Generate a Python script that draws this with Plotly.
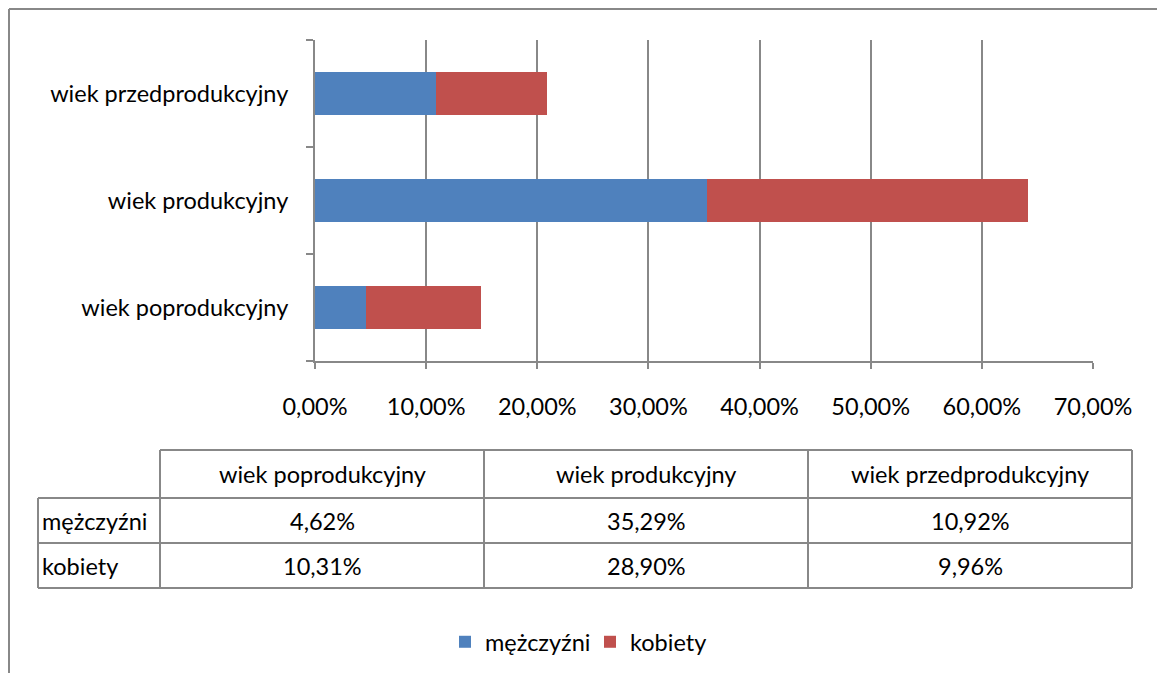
import plotly.graph_objects as go

categories = ["wiek poprodukcyjny", "wiek produkcyjny", "wiek przedprodukcyjny"]
men = [4.62, 35.29, 10.92]
women = [10.31, 28.90, 9.96]
series_names = ["mężczyźni", "kobiety"]
x_ticks = [0, 10, 20, 30, 40, 50, 60, 70]
x_tick_labels = ["0,00%", "10,00%", "20,00%", "30,00%", "40,00%", "50,00%", "60,00%", "70,00%"]

W, H = 1157, 673
FONT = "Lato"
FS = 23.5
GRAY = "#888888"
BLUE = "#4F81BD"
RED = "#C0504D"

def px(x):
    return x / W

def py(y):
    return 1 - y / H

fig = go.Figure()
fig.add_trace(go.Bar(y=categories, x=men, name=series_names[0], orientation="h",
                     marker=dict(color=BLUE, line=dict(width=0)), width=0.41))
fig.add_trace(go.Bar(y=categories, x=women, name=series_names[1], orientation="h",
                     marker=dict(color=RED, line=dict(width=0)), width=0.41))

shapes = []
annotations = []

# outer frame (left and top edges visible)
shapes.append(dict(type="line", xref="paper", yref="paper", x0=px(9), x1=px(9), y0=py(9), y1=py(673),
                   line=dict(color=GRAY, width=2)))
shapes.append(dict(type="line", xref="paper", yref="paper", x0=px(9), x1=px(1157), y0=py(9), y1=py(9),
                   line=dict(color=GRAY, width=2)))

# data table
col_x = [38, 160, 484, 808, 1132]
row_y = [450, 498, 543, 588]
tline = dict(color=GRAY, width=2)
shapes.append(dict(type="line", xref="paper", yref="paper", x0=px(col_x[1]), x1=px(col_x[-1]),
                   y0=py(row_y[0]), y1=py(row_y[0]), line=tline))
for ry in row_y[1:]:
    shapes.append(dict(type="line", xref="paper", yref="paper", x0=px(col_x[0]), x1=px(col_x[-1]),
                       y0=py(ry), y1=py(ry), line=tline))
shapes.append(dict(type="line", xref="paper", yref="paper", x0=px(col_x[0]), x1=px(col_x[0]),
                   y0=py(row_y[1]), y1=py(row_y[-1]), line=tline))
for cx in col_x[1:]:
    shapes.append(dict(type="line", xref="paper", yref="paper", x0=px(cx), x1=px(cx),
                       y0=py(row_y[0]), y1=py(row_y[-1]), line=tline))

tfont = dict(family=FONT, size=FS, color="#000000")
for i, cat in enumerate(categories):
    cx = (col_x[i + 1] + col_x[i + 2]) / 2
    annotations.append(dict(xref="paper", yref="paper", x=px(cx), y=py((row_y[0] + row_y[1]) / 2),
                            text=cat, showarrow=False, font=tfont, xanchor="center", yanchor="middle"))
rows = [men, women]
for r, (name, vals) in enumerate(zip(series_names, rows)):
    cy = (row_y[r + 1] + row_y[r + 2]) / 2
    annotations.append(dict(xref="paper", yref="paper", x=px(col_x[0] + 2), y=py(cy),
                            text=name, showarrow=False, font=tfont, xanchor="left", yanchor="middle"))
    for i, v in enumerate(vals):
        cx = (col_x[i + 1] + col_x[i + 2]) / 2
        annotations.append(dict(xref="paper", yref="paper", x=px(cx), y=py(cy),
                                text=f"{v:.2f}%".replace(".", ","), showarrow=False, font=tfont,
                                xanchor="center", yanchor="middle"))

fig.update_layout(
    width=W, height=H,
    margin=dict(l=0, r=0, t=0, b=0, autoexpand=False),
    paper_bgcolor="white", plot_bgcolor="white",
    barmode="stack",
    separators=", ",
    font=dict(family=FONT, size=FS, color="#000000"),
    showlegend=True,
    legend=dict(orientation="h", x=px(445), y=py(642), xanchor="left", yanchor="middle",
                font=dict(family=FONT, size=FS), itemwidth=30, traceorder="normal",
                entrywidth=100, entrywidthmode="pixels",
                bgcolor="rgba(0,0,0,0)"),
    xaxis=dict(domain=[px(315), px(1093)], range=[0, 70], tickvals=x_ticks, ticktext=x_tick_labels,
               showgrid=True, gridcolor=GRAY, gridwidth=2,
               showline=True, linecolor=GRAY, linewidth=2, ticks="outside", ticklen=6,
               tickcolor=GRAY, tickwidth=2, ticklabelstandoff=18, zeroline=False,
               tickfont=dict(family=FONT, size=FS)),
    yaxis=dict(domain=[py(361), py(40)], range=[-0.5, 2.5], type="category",
               categoryorder="array", categoryarray=categories,
               tickson="boundaries", ticks="outside", ticklen=7, tickcolor=GRAY, tickwidth=2,
               showline=True, linecolor=GRAY, linewidth=2, showgrid=False,
               ticklabelstandoff=20, tickfont=dict(family=FONT, size=FS)),
    shapes=shapes,
    annotations=annotations,
)

fig.write_html("out.html", config={"displayModeBar": False},
               post_script="document.body.style.margin='0';document.body.style.overflow='hidden';")
